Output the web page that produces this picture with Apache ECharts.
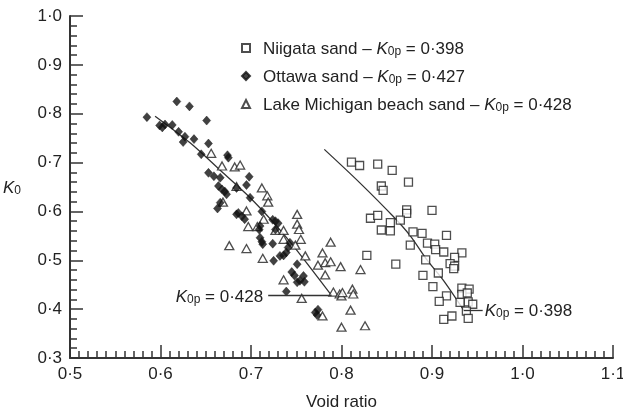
<!DOCTYPE html>
<html>
<head>
<meta charset="utf-8">
<script src="https://cdn.jsdelivr.net/npm/echarts@6/dist/echarts.min.js"></script>
<style>
  html, body { margin: 0; padding: 0; background: #fff; }
  #chart { width: 623px; height: 414px; }
</style>
</head>
<body>
<div id="chart"></div>
<script>
  // void ratio, K0
  var seriesNames = ['Niigata sand', 'Ottawa sand', 'Lake Michigan beach sand']
  var k0pLabels = ['0·398', '0·427', '0·428']

  var niigata = [
    [0.811, 0.701], [0.820, 0.694], [0.840, 0.697], [0.856, 0.684], [0.874, 0.660],
    [0.844, 0.652], [0.846, 0.643], [0.872, 0.603], [0.872, 0.596], [0.900, 0.602],
    [0.832, 0.586], [0.840, 0.592], [0.854, 0.577], [0.865, 0.582], [0.844, 0.562],
    [0.854, 0.560], [0.879, 0.558], [0.889, 0.555], [0.916, 0.551], [0.876, 0.531],
    [0.895, 0.535], [0.903, 0.533], [0.904, 0.522], [0.913, 0.517], [0.933, 0.515],
    [0.925, 0.506], [0.828, 0.510], [0.860, 0.492], [0.893, 0.501], [0.920, 0.493],
    [0.925, 0.488], [0.924, 0.483], [0.890, 0.469], [0.907, 0.474], [0.901, 0.446],
    [0.933, 0.443], [0.941, 0.441], [0.933, 0.430], [0.939, 0.433], [0.916, 0.427],
    [0.908, 0.416], [0.940, 0.415], [0.945, 0.410], [0.931, 0.414], [0.938, 0.396],
    [0.913, 0.379], [0.922, 0.386], [0.940, 0.381]
  ]

  var ottawa = [
    [0.585, 0.793], [0.618, 0.825], [0.632, 0.815], [0.651, 0.786], [0.599, 0.776],
    [0.602, 0.772], [0.605, 0.778], [0.613, 0.777], [0.620, 0.763], [0.627, 0.753],
    [0.625, 0.742], [0.637, 0.748], [0.653, 0.739], [0.645, 0.717], [0.674, 0.715],
    [0.675, 0.710], [0.653, 0.679], [0.659, 0.672], [0.666, 0.669], [0.664, 0.652],
    [0.668, 0.645], [0.671, 0.641], [0.673, 0.635], [0.698, 0.671], [0.695, 0.654],
    [0.684, 0.648], [0.699, 0.628], [0.666, 0.618], [0.663, 0.606], [0.684, 0.594],
    [0.686, 0.597], [0.690, 0.590], [0.693, 0.584], [0.712, 0.600], [0.710, 0.570],
    [0.709, 0.563], [0.724, 0.583], [0.727, 0.580], [0.730, 0.576], [0.727, 0.563],
    [0.710, 0.546], [0.712, 0.538], [0.713, 0.533], [0.724, 0.534], [0.743, 0.536],
    [0.741, 0.526], [0.739, 0.516], [0.736, 0.510], [0.732, 0.509], [0.725, 0.499],
    [0.751, 0.492], [0.745, 0.476], [0.748, 0.469], [0.751, 0.455], [0.754, 0.458],
    [0.758, 0.468], [0.759, 0.456], [0.739, 0.436], [0.771, 0.393], [0.774, 0.399],
    [0.773, 0.388]
  ]

  var michigan = [
    [0.656, 0.719], [0.668, 0.693], [0.682, 0.691], [0.688, 0.695], [0.684, 0.651],
    [0.712, 0.648], [0.718, 0.632], [0.719, 0.619], [0.669, 0.619], [0.695, 0.601],
    [0.714, 0.584], [0.697, 0.569], [0.707, 0.569], [0.727, 0.561], [0.736, 0.561],
    [0.751, 0.594], [0.751, 0.574], [0.753, 0.563], [0.736, 0.543], [0.755, 0.543],
    [0.749, 0.531], [0.676, 0.530], [0.695, 0.524], [0.788, 0.537], [0.779, 0.515],
    [0.760, 0.509], [0.713, 0.504], [0.774, 0.490], [0.782, 0.495], [0.788, 0.497],
    [0.799, 0.487], [0.821, 0.481], [0.782, 0.470], [0.736, 0.460], [0.756, 0.422],
    [0.791, 0.435], [0.798, 0.431], [0.800, 0.427], [0.801, 0.434], [0.812, 0.441],
    [0.813, 0.431], [0.810, 0.398], [0.779, 0.386], [0.800, 0.363], [0.826, 0.366]
  ]

  // trend lines
  var fitOttawaMichigan = [
    [0.594, 0.795], [0.633, 0.740], [0.669, 0.679], [0.699, 0.628],
    [0.725, 0.577], [0.747, 0.529], [0.789, 0.428]
  ]
  var fitNiigata = [
    [0.781, 0.727], [0.820, 0.659], [0.857, 0.590], [0.876, 0.550],
    [0.894, 0.502], [0.913, 0.458], [0.935, 0.398]
  ]
  var k0pLeft = [[0.719, 0.428], [0.789, 0.428]]
  var k0pRight = [[0.935, 0.398], [0.956, 0.398]]

  var xTicks = { min: 0.5, max: 1.1, step: 0.1 }
  var yTicks = { min: 0.3, max: 1.0, step: 0.1 }

  var font = "'Liberation Sans', Arial, sans-serif"
  var ink = '#222'

  var richK = {
    n: { fontSize: 17, fontFamily: font, color: ink, lineHeight: 20, verticalAlign: 'bottom' },
    k: { fontSize: 17, fontFamily: font, color: ink, fontStyle: 'italic', lineHeight: 20, verticalAlign: 'bottom' },
    s: { fontSize: 12, fontFamily: font, color: ink, lineHeight: 6, verticalAlign: 'bottom' }
  }

  function dot(v) {
    return v.toFixed(1).replace('.', '·')
  }
  function k0pText(val) {
    return '{k|K}{s|0p}{n| = ' + val + '}'
  }

  var mychar = echarts.init(document.getElementById('chart'))

  var option = {
    animation: false,
    backgroundColor: '#fff',
    grid: { left: 70, right: 10, top: 16, bottom: 56, outerBoundsMode: 'none', containLabel: false },
    legend: {
      data: seriesNames,
      orient: 'vertical',
      left: 241,
      top: 41,
      padding: 0,
      itemGap: 11,
      itemWidth: 8,
      itemHeight: 8,
      textStyle: { padding: [0, 0, 0, 8], rich: richK },
      formatter: function (name) {
        var i = seriesNames.indexOf(name)
        return '{n|' + name + ' – }' + k0pText(k0pLabels[i])
      }
    },
    xAxis: {
      type: 'value',
      min: xTicks.min,
      max: xTicks.max,
      interval: xTicks.step,
      name: 'Void ratio',
      nameLocation: 'middle',
      nameGap: 36,
      nameTextStyle: { fontSize: 17, fontFamily: font, color: ink },
      axisLine: { show: true, onZero: false, lineStyle: { color: '#333', width: 2 } },
      axisTick: { show: true, inside: false, length: -13, lineStyle: { color: '#333', width: 1.5 } },
      minorTick: { show: true, splitNumber: 10, length: -7, lineStyle: { color: '#333', width: 1.5 } },
      splitLine: { show: false },
      axisLabel: { fontSize: 17, fontFamily: font, color: ink, margin: 8, formatter: dot }
    },
    yAxis: {
      type: 'value',
      min: yTicks.min,
      max: yTicks.max,
      interval: yTicks.step,
      name: '{k|K}{s|0}',
      nameLocation: 'middle',
      nameRotate: 0,
      nameGap: 49,
      nameTextStyle: { rich: richK },
      axisLine: { show: true, onZero: false, lineStyle: { color: '#333', width: 2 } },
      axisTick: { show: true, inside: false, length: -13, lineStyle: { color: '#333', width: 1.5 } },
      minorTick: { show: true, splitNumber: 5, length: -7, lineStyle: { color: '#333', width: 1.5 } },
      splitLine: { show: false },
      axisLabel: { fontSize: 17, fontFamily: font, color: ink, margin: 8, formatter: dot }
    },
    series: [
      {
        name: seriesNames[0],
        type: 'scatter',
        symbol: 'rect',
        symbolSize: 8,
        data: niigata,
        itemStyle: { color: '#fff', borderColor: ink, borderWidth: 1.3 },
        z: 3
      },
      {
        name: seriesNames[1],
        type: 'scatter',
        symbol: 'diamond',
        symbolSize: [8, 9],
        data: ottawa,
        itemStyle: { color: '#111', borderColor: '#111', borderWidth: 0.5 },
        z: 4
      },
      {
        name: seriesNames[2],
        type: 'scatter',
        symbol: 'triangle',
        symbolSize: [9, 8],
        data: michigan,
        itemStyle: { color: '#fff', borderColor: ink, borderWidth: 1.3 },
        z: 3
      },
      {
        name: 'fit1',
        type: 'line',
        data: fitOttawaMichigan,
        smooth: 0.3,
        symbol: 'none',
        lineStyle: { color: '#333', width: 1.3 },
        z: 2,
        markLine: {
          silent: true,
          symbol: 'none',
          lineStyle: { color: '#333', width: 1.3, type: 'solid' },
          data: [
            [
              { coord: k0pLeft[0], label: { show: true, position: 'start', distance: 5, formatter: k0pText(k0pLabels[2]), rich: richK } },
              { coord: k0pLeft[1] }
            ],
            [
              { coord: k0pRight[0], label: { show: true, position: 'end', distance: 2, formatter: k0pText(k0pLabels[0]), rich: richK } },
              { coord: k0pRight[1] }
            ]
          ]
        }
      },
      {
        name: 'fit2',
        type: 'line',
        data: fitNiigata,
        smooth: 0.3,
        symbol: 'none',
        lineStyle: { color: '#333', width: 1.3 },
        z: 2
      }
    ]
  }

  mychar.setOption(option)
</script>
</body>
</html>
